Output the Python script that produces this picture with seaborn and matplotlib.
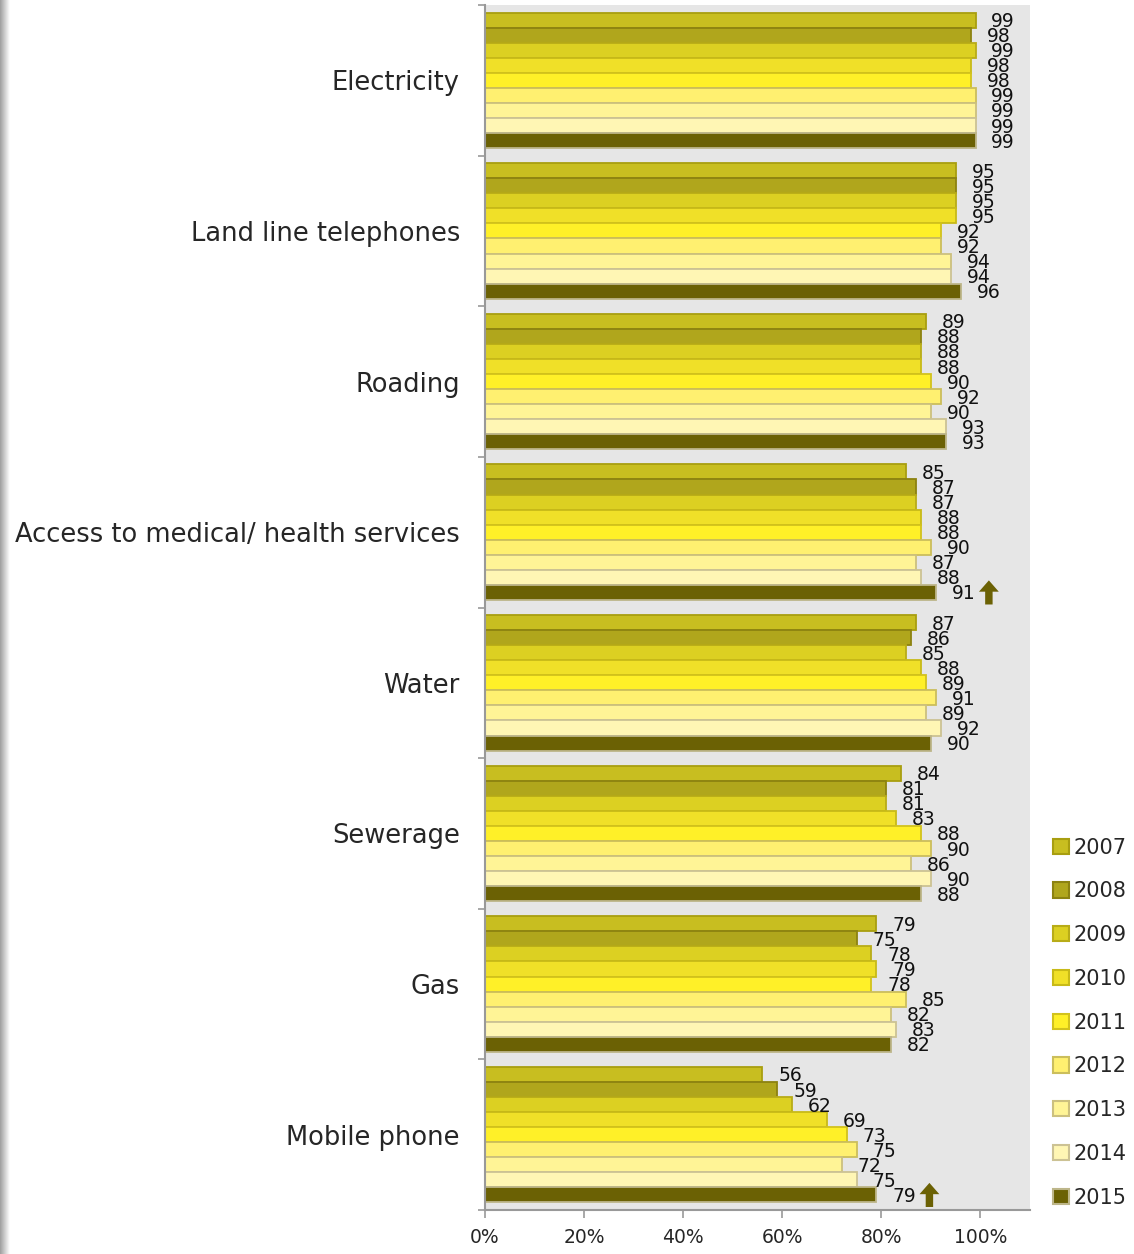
import numpy as np
import pandas as pd
import matplotlib
matplotlib.use("Agg")
import matplotlib.pyplot as plt
import seaborn as sns

categories = ["Electricity", "Land line telephones", "Roading",
              "Access to medical/ health services", "Water", "Sewerage",
              "Gas", "Mobile phone"]
years = ["2007", "2008", "2009", "2010", "2011", "2012", "2013", "2014", "2015"]

v2007 = [99, 95, 89, 85, 87, 84, 79, 56]
v2008 = [98, 95, 88, 87, 86, 81, 75, 59]
v2009 = [99, 95, 88, 87, 85, 81, 78, 62]
v2010 = [98, 95, 88, 88, 88, 83, 79, 69]
v2011 = [98, 92, 90, 88, 89, 88, 78, 73]
v2012 = [99, 92, 92, 90, 91, 90, 85, 75]
v2013 = [99, 94, 90, 87, 89, 86, 82, 72]
v2014 = [99, 94, 93, 88, 92, 90, 83, 75]
v2015 = [99, 96, 93, 91, 90, 88, 82, 79]

# categories flagged with an up arrow on the 2015 bar
arrow_cats = ["Access to medical/ health services", "Mobile phone"]

fill_colors = ["#C8BE20", "#B0A61C", "#DCD022", "#F0E028", "#FFF028",
               "#FFF070", "#FFF496", "#FFF6B4", "#6B6104"]
edge_colors = ["#A89E10", "#8C8210", "#B8AC18", "#C8BA18", "#D2C21C",
               "#CBBE5C", "#CCC07E", "#CCC294", "#BDB68A"]

series = [v2007, v2008, v2009, v2010, v2011, v2012, v2013, v2014, v2015]
rows = []
for yr, vals in zip(years, series):
    for cat, v in zip(categories, vals):
        rows.append({"category": cat, "year": yr, "value": v})
df = pd.DataFrame(rows)

sns.set_style("white")
plt.rcParams["font.family"] = ["DejaVu Sans"]

fig = plt.figure(figsize=(11.34, 12.54), dpi=100)
ax = fig.add_axes([485 / 1134, 44 / 1254, 545 / 1134, 1205 / 1254])
ax.set_facecolor("#E6E6E6")

sns.barplot(data=df, y="category", x="value", hue="year", orient="h",
            order=categories, hue_order=years, palette=fill_colors,
            saturation=1, width=0.9, dodge=True, ax=ax, legend=True)

for cont, ec, vals in zip(ax.containers, edge_colors, series):
    for p, v in zip(cont.patches, vals):
        p.set_edgecolor(ec)
        p.set_linewidth(1.3)
        ax.text(v + 3.2, p.get_y() + p.get_height() * 0.6, str(v),
                ha="left", va="center", fontsize=13.5, color="#111111")

# up arrows next to 2015 bars
last = ax.containers[-1]
for i, cat in enumerate(categories):
    if cat in arrow_cats:
        p = last.patches[i]
        yc = p.get_y() + p.get_height() / 2
        x0 = series[-1][i] + 10.7
        ax.arrow(x0, yc + 0.08, 0, -0.16, width=1.5, head_width=4.0,
                 head_length=0.075, length_includes_head=True,
                 color="#6B6104", lw=0)

ax.set_xlim(0, 110)
ax.set_ylim(len(categories) - 0.5, -0.5)
ax.set_xticks([0, 20, 40, 60, 80, 100])
ax.set_xticklabels(["0%", "20%", "40%", "60%", "80%", "100%"], fontsize=13.5)
ax.set_yticks(range(len(categories)))
ax.set_yticklabels(categories, fontsize=18.5)
ax.set_yticks(np.arange(-0.5, len(categories), 1), minor=True)
ax.tick_params(axis="y", which="major", length=0, pad=18)
ax.tick_params(axis="y", which="minor", length=5, color="#999999", width=1.2,
               direction="out", left=True)
ax.tick_params(axis="x", length=6, color="#999999", width=1.2,
               direction="out", bottom=True, pad=7)
ax.set_xlabel("")
ax.set_ylabel("")
for s in ["top", "right"]:
    ax.spines[s].set_visible(False)
for s in ["left", "bottom"]:
    ax.spines[s].set_color("#999999")
    ax.spines[s].set_linewidth(1.5)

handles, labels = ax.get_legend_handles_labels()
for h, ec in zip(handles, edge_colors):
    h.set_edgecolor(ec)
    h.set_linewidth(1.5)
ax.legend(handles, labels, loc="lower left", frameon=False, fontsize=15,
          bbox_to_anchor=(1043 / 1134, 36 / 1254),
          bbox_transform=fig.transFigure, handlelength=0.75,
          handleheight=0.75, handletextpad=0.2, labelspacing=1.14,
          borderpad=0)

# soft grey shadow down the left edge
sh = fig.add_axes([0, 0, 10 / 1134, 1])
grad = np.linspace(0.62, 1.0, 50)[None, :]
sh.imshow(grad, aspect="auto", cmap="gray", vmin=0, vmax=1,
          extent=[0, 1, 0, 1])
sh.axis("off")

fig.savefig("out.png", dpi=100)
